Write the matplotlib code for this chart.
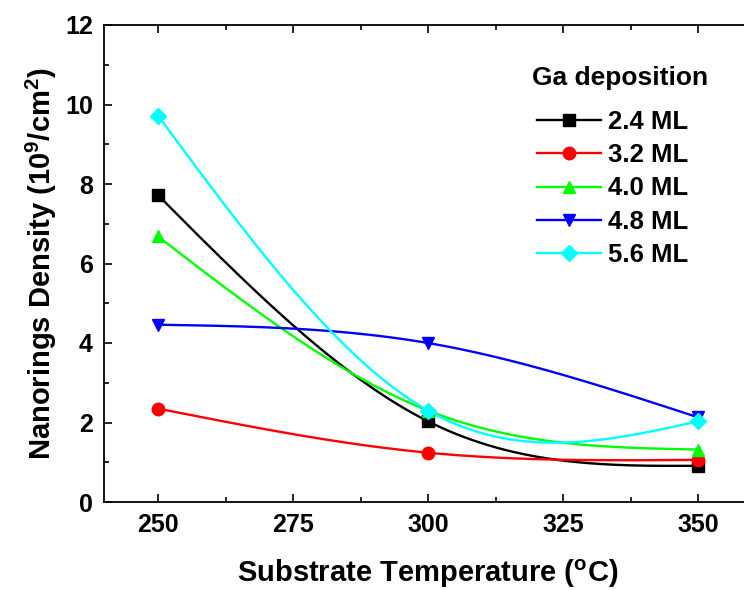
import numpy as np
import matplotlib
matplotlib.use("Agg")
import matplotlib.pyplot as plt
from matplotlib.ticker import MultipleLocator

plt.rcParams['font.family'] = ['Liberation Sans', 'DejaVu Sans']
plt.rcParams['font.weight'] = 'bold'
plt.rcParams['mathtext.fontset'] = 'custom'
plt.rcParams['mathtext.rm'] = 'Liberation Sans:bold'
plt.rcParams['mathtext.bf'] = 'Liberation Sans:bold'
plt.rcParams['mathtext.it'] = 'Liberation Sans:bold'

# data
temperature = [250, 300, 350]
labels = ['2.4 ML', '3.2 ML', '4.0 ML', '4.8 ML', '5.6 ML']
dens_24 = [7.72, 2.03, 0.91]
dens_32 = [2.35, 1.24, 1.06]
dens_40 = [6.68, 2.30, 1.32]
dens_48 = [4.46, 4.00, 2.13]
dens_56 = [9.72, 2.30, 2.03]

colors = ['black', '#ff0000', '#00ff00', '#0000ff', '#00ffff']
markers = ['s', 'o', '^', 'v', 'D']
msizes = [8, 9, 9, 9, 8]


def natural_spline(x, y, n=200):
    # natural cubic spline through the given points (how the line is drawn)
    x = np.asarray(x, float)
    y = np.asarray(y, float)
    k = len(x)
    h = np.diff(x)
    A = np.zeros((k, k))
    b = np.zeros(k)
    A[0, 0] = A[-1, -1] = 1
    for i in range(1, k - 1):
        A[i, i - 1] = h[i - 1]
        A[i, i] = 2 * (h[i - 1] + h[i])
        A[i, i + 1] = h[i]
        b[i] = 6 * ((y[i + 1] - y[i]) / h[i] - (y[i] - y[i - 1]) / h[i - 1])
    M = np.linalg.solve(A, b)
    xs = np.linspace(x[0], x[-1], n)
    idx = np.clip(np.searchsorted(x, xs) - 1, 0, k - 2)
    x0, x1 = x[idx], x[idx + 1]
    hh = x1 - x0
    ys = (M[idx] * (x1 - xs) ** 3 / (6 * hh) + M[idx + 1] * (xs - x0) ** 3 / (6 * hh)
          + (y[idx] / hh - M[idx] * hh / 6) * (x1 - xs)
          + (y[idx + 1] / hh - M[idx + 1] * hh / 6) * (xs - x0))
    return xs, ys


fig = plt.figure(figsize=(7.44, 5.90), dpi=100)
ax = fig.add_axes([104 / 744, 88 / 590, 648 / 744, 477 / 590])

series = [dens_24, dens_32, dens_40, dens_48, dens_56]
for vals, lab, c, m, ms in zip(series, labels, colors, markers, msizes):
    xs, ys = natural_spline(temperature, vals)
    ax.plot(xs, ys, color=c, lw=1.7)
    ax.plot(temperature, vals, ls='none', marker=m, color=c, ms=ms)
    # legend proxy
    ax.plot([], [], color=c, lw=1.7, marker=m, ms=ms, label=lab)

ax.set_xlim(240, 360)
ax.set_ylim(0, 12)
ax.xaxis.set_major_locator(MultipleLocator(25))
ax.xaxis.set_minor_locator(MultipleLocator(12.5))
ax.yaxis.set_major_locator(MultipleLocator(2))
ax.yaxis.set_minor_locator(MultipleLocator(1))
ax.tick_params(which='both', direction='in', top=True, right=True, width=1.2,
               labelsize=18, pad=8)
ax.tick_params(which='major', length=6)
ax.tick_params(which='minor', length=3.5)
for s in ax.spines.values():
    s.set_linewidth(1.3)

ax.set_xlabel(r'Substrate Temperature ($^{\mathbf{o}}$C)', fontsize=21, fontweight='bold', labelpad=14.5)
ax.set_ylabel(r'Nanorings Density (10$^{\mathbf{9}}$/cm$^{\mathbf{2}}$)', fontsize=21,
              fontweight='bold', labelpad=4)

# legend title as its own text, entries below it
fig.text(532 / 744, 1 - 78 / 590, 'Ga deposition', fontsize=19, fontweight='bold',
         ha='left', va='center')
leg = ax.legend(loc='upper left', bbox_to_anchor=(537 / 744, 1 - 110 / 590),
                bbox_transform=fig.transFigure, frameon=False, numpoints=1,
                prop={'size': 18.5, 'weight': 'bold'},
                handlelength=2.5, handletextpad=0.25, labelspacing=0.36, borderaxespad=0, borderpad=0)

fig.savefig('out.png', dpi=100)
